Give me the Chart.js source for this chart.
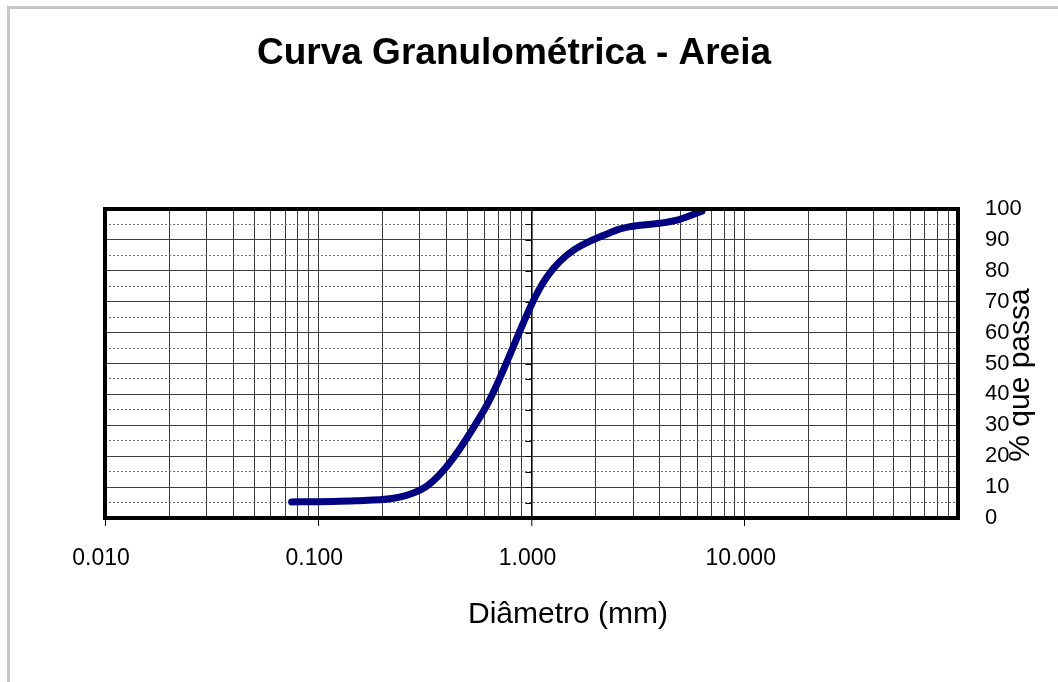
<!DOCTYPE html>
<html><head><meta charset="utf-8">
<script src="https://cdn.jsdelivr.net/npm/chart.js@4.4.1/dist/chart.umd.min.js"></script>
<style>
html,body{margin:0;padding:0;background:#fff;overflow:hidden;width:1058px;height:682px;}
#frame{position:absolute;left:7px;top:6px;width:1200px;height:800px;border:3px solid #c6c6c6;box-sizing:border-box;}
#c{position:absolute;left:0;top:0;}
</style></head><body>
<div id="frame"></div>
<canvas id="c" width="1058" height="682"></canvas>
<script>
// ---- data ----
const chartTitle = 'Curva Granulométrica - Areia';
const xTitle = 'Diâmetro (mm)';
const yTitle = '% que passa';
const sieveMm = [0.075, 0.15, 0.3, 0.6, 1.18, 2.36, 4.75, 6.3];
const passingPct = [5.2, 5.6, 9, 35, 78, 92.5, 96.3, 99.3];
const xDecades = [0.01, 0.1, 1, 10];
const xMax = 100;
const xLabelDecades = [0.01, 0.1, 1, 10];
const xMinorSteps = [1, 2, 3, 4, 5, 6, 7, 8, 9];
const yTicks = [0, 10, 20, 30, 40, 50, 60, 70, 80, 90, 100];
const yHalfTicks = [5, 15, 25, 35, 45, 55, 65, 75, 85, 95];

const FONT = "'Liberation Sans', Arial, Helvetica, sans-serif";
const xGridValues = [];
xDecades.forEach(d => xMinorSteps.forEach(m => xGridValues.push(+(d * m).toPrecision(6))));
xGridValues.push(xMax);
const isDecade = v => xLabelDecades.some(d => Math.abs(Math.log10(v) - Math.log10(d)) < 1e-9);

const decor = {
  id: 'decor',
  beforeDatasetsDraw(chart) {
    const {ctx, scales} = chart;
    const x1 = scales.x.getPixelForValue(1);
    ctx.save();
    ctx.strokeStyle = '#000';
    ctx.lineWidth = 1;
    [...yTicks, ...yHalfTicks].forEach(v => {
      const y = Math.round(scales.y.getPixelForValue(v)) + 0.5;
      ctx.beginPath(); ctx.moveTo(x1 - 6, y); ctx.lineTo(x1, y); ctx.stroke();
    });
    ctx.restore();
  },
  afterDatasetsDraw(chart) {
    const {ctx, chartArea: a} = chart;
    ctx.save();
    ctx.lineWidth = 4;
    ctx.strokeStyle = '#000';
    ctx.strokeRect(a.left, a.top, a.right - a.left, a.bottom - a.top);
    ctx.restore();
  },
  afterDraw(chart) {
    const {ctx} = chart;
    ctx.save();
    ctx.fillStyle = '#000';
    ctx.font = '30px ' + FONT;
    ctx.textAlign = 'center';
    ctx.textBaseline = 'middle';
    ctx.fillText(xTitle, 568, 615);
    ctx.translate(1021, 375);
    ctx.rotate(-Math.PI / 2);
    ctx.fillText(yTitle, 0, 0);
    ctx.restore();
  }
};

new Chart(document.getElementById('c'), {
  type: 'line',
  data: {
    datasets: [{
      data: sieveMm.map((x, i) => ({x, y: passingPct[i]})),
      borderColor: '#000080',
      borderWidth: 7,
      borderCapStyle: 'round',
      borderJoinStyle: 'round',
      pointRadius: 0,
      cubicInterpolationMode: 'monotone',
      fill: false,
      clip: false
    }]
  },
  options: {
    responsive: false,
    animation: false,
    events: [],
    layout: {padding: {left: 0, right: 30, top: 0, bottom: 0}},
    plugins: {
      legend: {display: false},
      tooltip: {enabled: false},
      title: {
        display: true,
        text: chartTitle,
        color: '#000',
        font: {family: FONT, size: 37, weight: 'bold'},
        padding: {top: 31.8, bottom: 132.8}
      }
    },
    scales: {
      x: {
        type: 'logarithmic',
        position: 'bottom',
        min: 0.01,
        max: xMax,
        afterBuildTicks: s => { s.ticks = xGridValues.map(v => ({value: v})); },
        afterFit: s => { s.height = 164; },
        ticks: {
          autoSkip: false, maxRotation: 0, minRotation: 0,
          padding: 19,
          labelOffset: -4,
          color: '#000',
          font: {family: FONT, size: 23},
          callback: v => isDecade(v) ? Number(v).toFixed(3) : ''
        },
        grid: {
          drawTicks: true,
          tickLength: 8,
          tickWidth: 1,
          tickColor: c => (c.tick && isDecade(c.tick.value)) ? '#000' : 'rgba(0,0,0,0)',
          color: c => (c.tick && c.tick.value === 1) ? '#000' : '#3c3c3c',
          lineWidth: c => (c.tick && c.tick.value === 1) ? 1.6 : 1
        },
        border: {display: false}
      },
      y: {
        type: 'linear',
        position: 'right',
        min: 0, max: 100,
        afterBuildTicks: s => { s.ticks = yTicks.map(v => ({value: v})); },
        afterFit: s => { s.width = 70; },
        ticks: {
          padding: 27,
          color: '#000',
          font: {family: FONT, size: 22}
        },
        grid: {drawTicks: false, color: '#3c3c3c', lineWidth: 1},
        border: {display: false}
      },
      y5: {
        type: 'linear',
        position: 'left',
        min: 0, max: 100,
        afterBuildTicks: s => { s.ticks = yHalfTicks.map(v => ({value: v})); },
        afterFit: s => { s.width = 105; },
        ticks: {display: false},
        grid: {drawTicks: false, color: '#6a6a6a', lineWidth: 1},
        border: {display: false, dash: [2, 2]}
      }
    }
  },
  plugins: [decor]
});
</script>
</body></html>
